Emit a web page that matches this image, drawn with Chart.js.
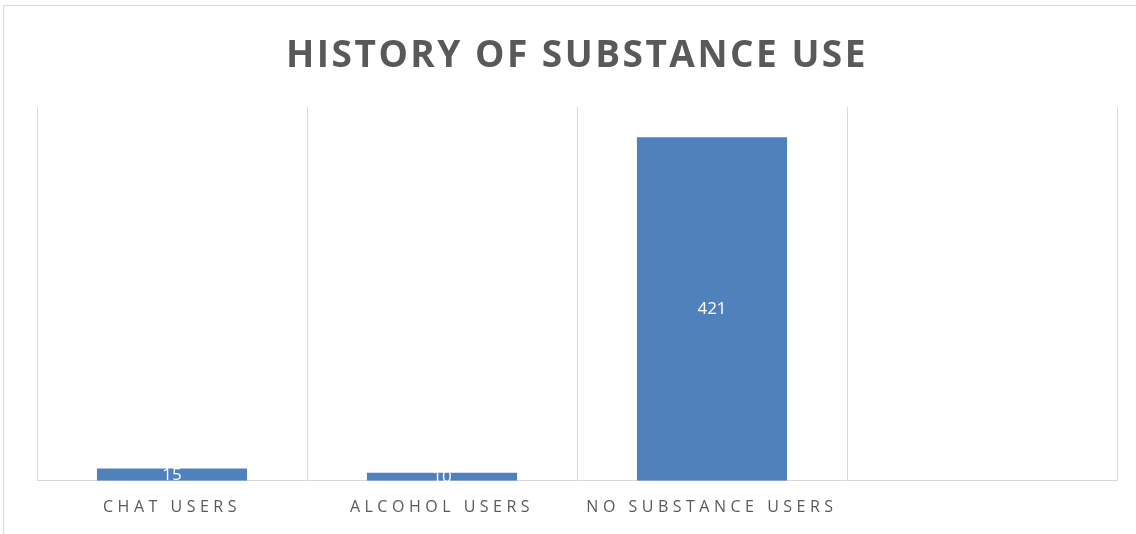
<!DOCTYPE html>
<html>
<head>
<meta charset="utf-8">
<script src="https://cdn.jsdelivr.net/npm/chart.js@4.4.1/dist/chart.umd.min.js"></script>
<style>
  html, body { margin: 0; padding: 0; background: #ffffff; }
  #wrap { position: relative; width: 1136px; height: 534px; overflow: hidden; }
  #frame {
    position: absolute; left: 3px; top: 5px; width: 1140px; height: 540px;
    border-top: 1px solid #d9d9d9; border-left: 1px solid #d9d9d9;
    pointer-events: none;
  }
</style>
</head>
<body>
<div id="wrap">
  <canvas id="chart" width="1136" height="534"></canvas>
  <div id="frame"></div>
</div>
<script>
// Данные графика
const categories = ["CHAT USERS", "ALCOHOL USERS", "NO SUBSTANCE USERS", ""];
const users = [15, 10, 421, null];
const axisMax = 458;

const greyText = "#595959";
const gridColor = "#d9d9d9";
const barColor = "#4f81bd";

// Плагин: трекинг букв и подписи значений внутри столбцов
const spacingAndLabels = {
  id: "spacingAndLabels",
  beforeDraw(chart) {
    chart.ctx.letterSpacing = "2.5px"; // для заголовка
  },
  afterDatasetsDraw(chart) {
    const ctx = chart.ctx;
    ctx.letterSpacing = "0px";
    const meta = chart.getDatasetMeta(0);
    ctx.save();
    ctx.fillStyle = "#ffffff";
    ctx.font = "17px 'Open Sans'";
    ctx.textAlign = "center";
    ctx.textBaseline = "middle";
    meta.data.forEach((bar, i) => {
      if (users[i] == null) return;
      const y = (bar.y + bar.base) / 2;
      ctx.fillText(String(users[i]), bar.x, y);
    });
    ctx.restore();
    ctx.letterSpacing = "4.5px"; // для подписей оси
  },
  afterDraw(chart) {
    chart.ctx.letterSpacing = "0px";
  }
};

new Chart(document.getElementById("chart"), {
  type: "bar",
  data: {
    labels: categories,
    datasets: [{
      data: users,
      backgroundColor: barColor,
      borderWidth: 0,
      barPercentage: 1,
      categoryPercentage: 0.556
    }]
  },
  options: {
    responsive: false,
    animation: false,
    layout: { padding: { left: 37, right: 19, top: 0, bottom: 0 } },
    plugins: {
      legend: { display: false },
      tooltip: { enabled: false },
      title: {
        display: true,
        text: "HISTORY OF SUBSTANCE USE",
        color: greyText,
        font: { family: "'Open Sans'", size: 37, weight: "bold", lineHeight: 1.2 },
        padding: { top: 34, bottom: 28.6 }
      }
    },
    scales: {
      x: {
        grid: { color: gridColor, drawTicks: false, offset: true },
        border: { color: gridColor },
        ticks: {
          z: 1,
          color: greyText,
          font: { family: "'Open Sans'", size: 16 },
          padding: 17,
          maxRotation: 0,
          autoSkip: false
        }
      },
      y: {
        display: false,
        min: 0,
        max: axisMax
      }
    }
  },
  plugins: [spacingAndLabels]
});
</script>
</body>
</html>
